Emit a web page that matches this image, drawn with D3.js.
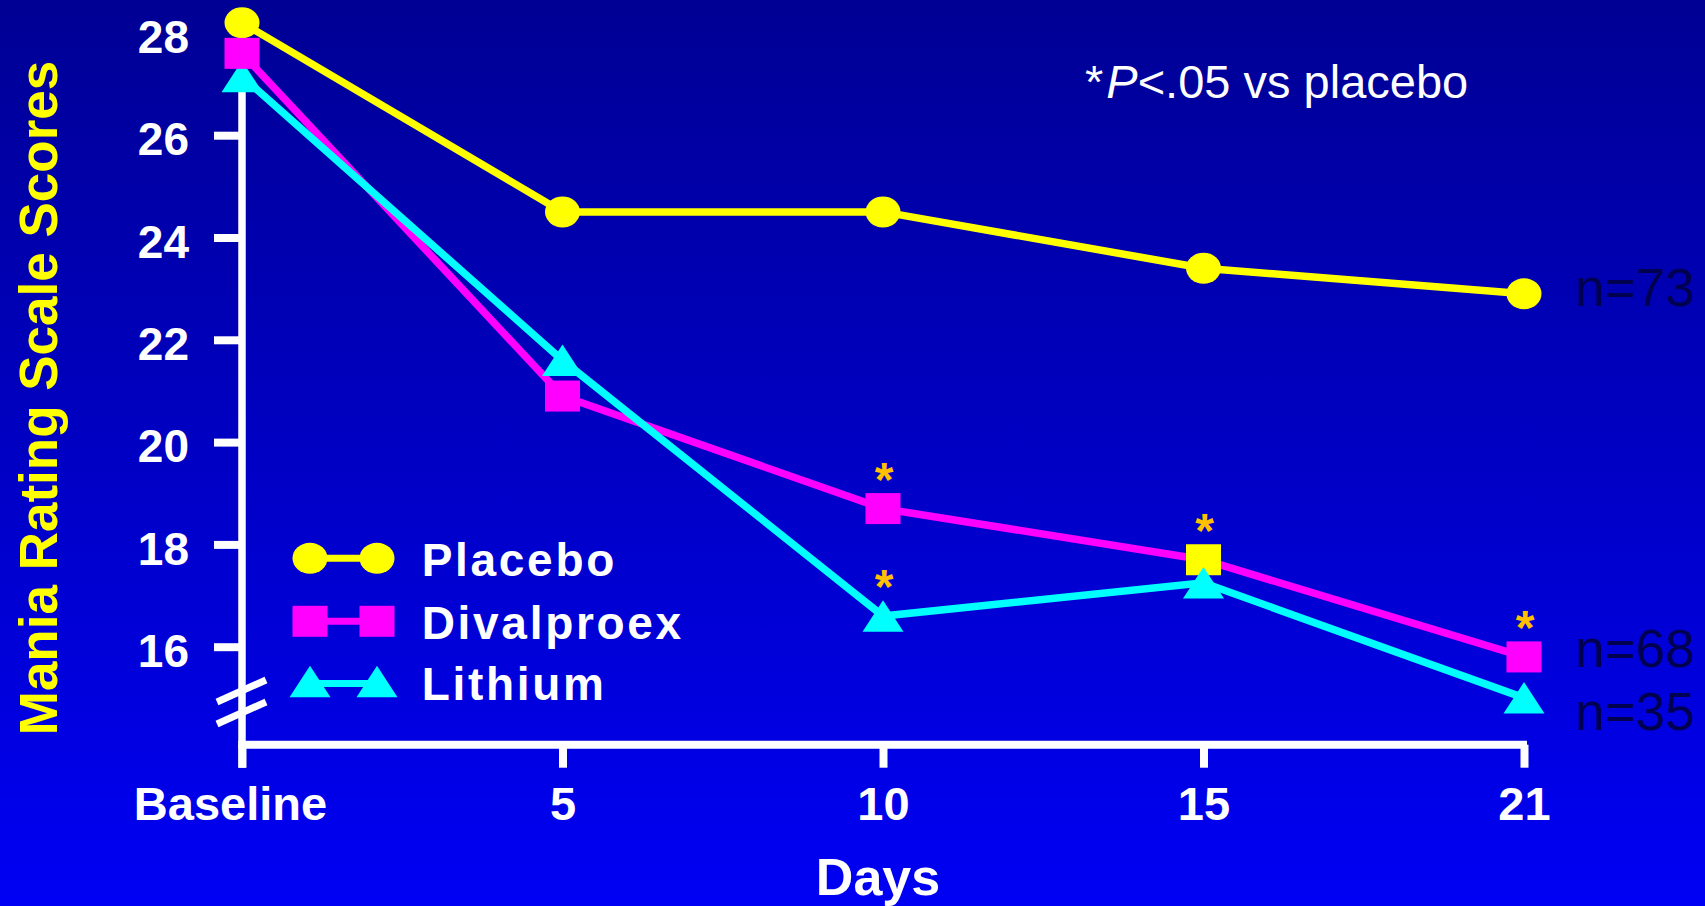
<!DOCTYPE html>
<html>
<head>
<meta charset="utf-8">
<script src="https://cdn.jsdelivr.net/npm/d3@7/dist/d3.min.js"></script>
<style>
  html, body { margin: 0; padding: 0; background: #0000c0; }
  svg { display: block; }
  text { font-family: "Liberation Sans", Arial, Helvetica, sans-serif; }
</style>
</head>
<body>
<svg id="chart" width="1705" height="906"></svg>
<script>
// ---------------- DATA ----------------
const categories = ["Baseline", "5", "10", "15", "21"];
const seriesNames = ["Placebo", "Divalproex", "Lithium"];
const placebo    = [28.2, 24.5, 24.5, 23.4, 22.9];
const divalproex = [27.6, 20.9, 18.7, 17.7, 15.8];
const lithium    = [27.15, 21.6, 16.6, 17.25, 15.0];
const divalproexSignificant = ["10", "15", "21"];
const lithiumSignificant = ["10"];
const yTickValues = [16, 18, 20, 22, 24, 26, 28];
const nLabels = ["n=73", "n=68", "n=35"];
const footnoteParts = ["*", "P", "<.05 vs placebo"];
const yTitle = "Mania Rating Scale Scores";
const xTitle = "Days";

// ---------------- LAYOUT / STYLE ----------------
const W = 1705, H = 906;
const svg = d3.select("#chart");
const FONT = '"Liberation Sans", Arial, Helvetica, sans-serif';
const colors = { Placebo: "#FFFF00", Divalproex: "#FF00FF", Lithium: "#00FFFF" };
const highlightSquareDay = "15"; // divalproex marker drawn in yellow in the original
const axisY = 744.7;

const x = d3.scalePoint().domain(categories).range([242, 1524]);
const y = d3.scaleLinear().domain([16, 26]).range([646.7, 135.2]);

// background gradient
const defs = svg.append("defs");
const grad = defs.append("linearGradient").attr("id", "bg").attr("x1", 0).attr("y1", 0).attr("x2", 0).attr("y2", 1);
grad.append("stop").attr("offset", "0%").attr("stop-color", "#000094");
grad.append("stop").attr("offset", "100%").attr("stop-color", "#0000F4");
svg.append("rect").attr("width", W).attr("height", H).attr("fill", "url(#bg)");

// ---- marker shapes
const MW = 35, MH = 31;
function drawMarker(g, type, cx, cy, fill) {
  if (type === "Placebo") {
    g.append("ellipse").attr("cx", cx).attr("cy", cy).attr("rx", MW / 2).attr("ry", MH / 2).attr("fill", fill);
  } else if (type === "Divalproex") {
    g.append("rect").attr("x", cx - MW / 2).attr("y", cy - MH / 2).attr("width", MW).attr("height", MH).attr("fill", fill);
  } else {
    const tw = 41, th = 31.5;
    g.append("path")
      .attr("d", `M${cx - tw / 2},${cy + th / 2} L${cx},${cy - th / 2} L${cx + tw / 2},${cy + th / 2} Z`)
      .attr("fill", fill);
  }
}

// ---------------- AXES ----------------
// Y axis
const yAxisG = svg.append("g").attr("transform", `translate(${x("Baseline")},0)`)
  .call(d3.axisLeft(y).tickValues(yTickValues).tickSize(28).tickPadding(25).tickFormat(d3.format("d")));
yAxisG.select(".domain").remove();
yAxisG.selectAll(".tick line").attr("stroke", "#fff").attr("stroke-width", 8)
  .filter(d => d === 28).remove();
yAxisG.selectAll(".tick text")
  .attr("fill", "#fff").attr("font-size", 46).attr("font-weight", "bold")
  .attr("font-family", FONT).attr("dy", "0.43em");
// y axis line (extends below the x axis)
svg.append("line")
  .attr("x1", x("Baseline")).attr("x2", x("Baseline"))
  .attr("y1", y(27.5)).attr("y2", axisY + 23)
  .attr("stroke", "#fff").attr("stroke-width", 7.5);
// axis break marks
const breakY = y(14.92);
[-11, 11].forEach(off => {
  svg.append("line")
    .attr("x1", x("Baseline") - 25).attr("y1", breakY + off + 11)
    .attr("x2", x("Baseline") + 24).attr("y2", breakY + off - 11)
    .attr("stroke", "#fff").attr("stroke-width", 7);
});

// X axis
const xAxisG = svg.append("g").attr("transform", `translate(0,${axisY})`)
  .call(d3.axisBottom(x).tickSize(23).tickPadding(19));
xAxisG.select(".domain").remove();
xAxisG.selectAll(".tick line").attr("stroke", "#fff").attr("stroke-width", 8);
xAxisG.selectAll(".tick text")
  .attr("fill", "#fff").attr("font-size", 47).attr("font-weight", "bold")
  .attr("font-family", FONT)
  .attr("dx", d => d === "Baseline" ? -12 : 0);
svg.append("line")
  .attr("x1", x("Baseline") - 3.7).attr("x2", x("21") + 3)
  .attr("y1", axisY).attr("y2", axisY)
  .attr("stroke", "#fff").attr("stroke-width", 8);

// Axis titles
svg.append("text")
  .attr("transform", `translate(57,398) rotate(-90)`)
  .attr("text-anchor", "middle")
  .attr("fill", "#FFFF00").attr("font-size", 53).attr("font-weight", "bold")
  .text(yTitle);
svg.append("text")
  .attr("x", 878).attr("y", 895)
  .attr("text-anchor", "middle")
  .attr("fill", "#fff").attr("font-size", 52).attr("font-weight", "bold")
  .text(xTitle);

// ---------------- SERIES ----------------
const series = [
  { name: "Placebo", values: placebo },
  { name: "Divalproex", values: divalproex },
  { name: "Lithium", values: lithium }
];
const line = d3.line().x((d, i) => x(categories[i])).y(d => y(d));
const linesG = svg.append("g");
series.forEach(s => {
  linesG.append("path").datum(s.values)
    .attr("d", line).attr("fill", "none")
    .attr("stroke", colors[s.name]).attr("stroke-width", 7.5)
    .attr("stroke-linejoin", "miter");
});

const markersG = svg.append("g");
// placebo markers
placebo.forEach((v, i) => drawMarker(markersG, "Placebo", x(categories[i]), y(v), colors.Placebo));
// highlighted (yellow) divalproex marker drawn beneath lithium
divalproex.forEach((v, i) => {
  if (categories[i] === highlightSquareDay) drawMarker(markersG, "Divalproex", x(categories[i]), y(v), "#FFFF00");
});
lithium.forEach((v, i) => drawMarker(markersG, "Lithium", x(categories[i]), y(v), colors.Lithium));
divalproex.forEach((v, i) => {
  if (categories[i] !== highlightSquareDay) drawMarker(markersG, "Divalproex", x(categories[i]), y(v), colors.Divalproex);
});

// significance asterisks
const starColor = "#FFC000";
function stars(values, sig) {
  values.forEach((v, i) => {
    if (sig.includes(categories[i])) {
      svg.append("text")
        .attr("x", x(categories[i]) + 1).attr("y", y(v) - 13)
        .attr("text-anchor", "middle")
        .attr("fill", starColor).attr("font-size", 48).attr("font-weight", "bold")
        .text("*");
    }
  });
}
stars(divalproex, divalproexSignificant);
stars(lithium, lithiumSignificant);

// n labels
const nOffsets = [12, 10.5, 32];
[placebo, divalproex, lithium].forEach((vals, k) => {
  svg.append("text")
    .attr("x", 1575).attr("y", y(vals[vals.length - 1]) + nOffsets[k])
    .attr("fill", "#000050").attr("font-size", 53)
    .text(nLabels[k]);
});

// footnote
const fn = svg.append("text").attr("x", 1085).attr("y", 98.3)
  .attr("fill", "#fff").attr("font-size", 47);
fn.append("tspan").text(footnoteParts[0]);
fn.append("tspan").attr("font-style", "italic").attr("dx", 3).text(footnoteParts[1]);
fn.append("tspan").text(footnoteParts[2]);

// ---------------- LEGEND ----------------
const legendRows = [558.3, 621.3, 681.5];
const legendG = svg.append("g");
seriesNames.forEach((name, i) => {
  const cy = legendRows[i];
  legendG.append("line").attr("x1", 310).attr("x2", 377).attr("y1", cy + (name === "Lithium" ? 2 : 0)).attr("y2", cy + (name === "Lithium" ? 2 : 0))
    .attr("stroke", colors[name]).attr("stroke-width", 7);
  drawMarker(legendG, name, 310, cy, colors[name]);
  drawMarker(legendG, name, 377, cy, colors[name]);
  legendG.append("text")
    .attr("x", 421.7).attr("y", cy + 18)
    .attr("fill", "#fff").attr("font-size", 46).attr("font-weight", "bold")
    .attr("letter-spacing", 2.7)
    .text(name);
});
</script>
</body>
</html>
